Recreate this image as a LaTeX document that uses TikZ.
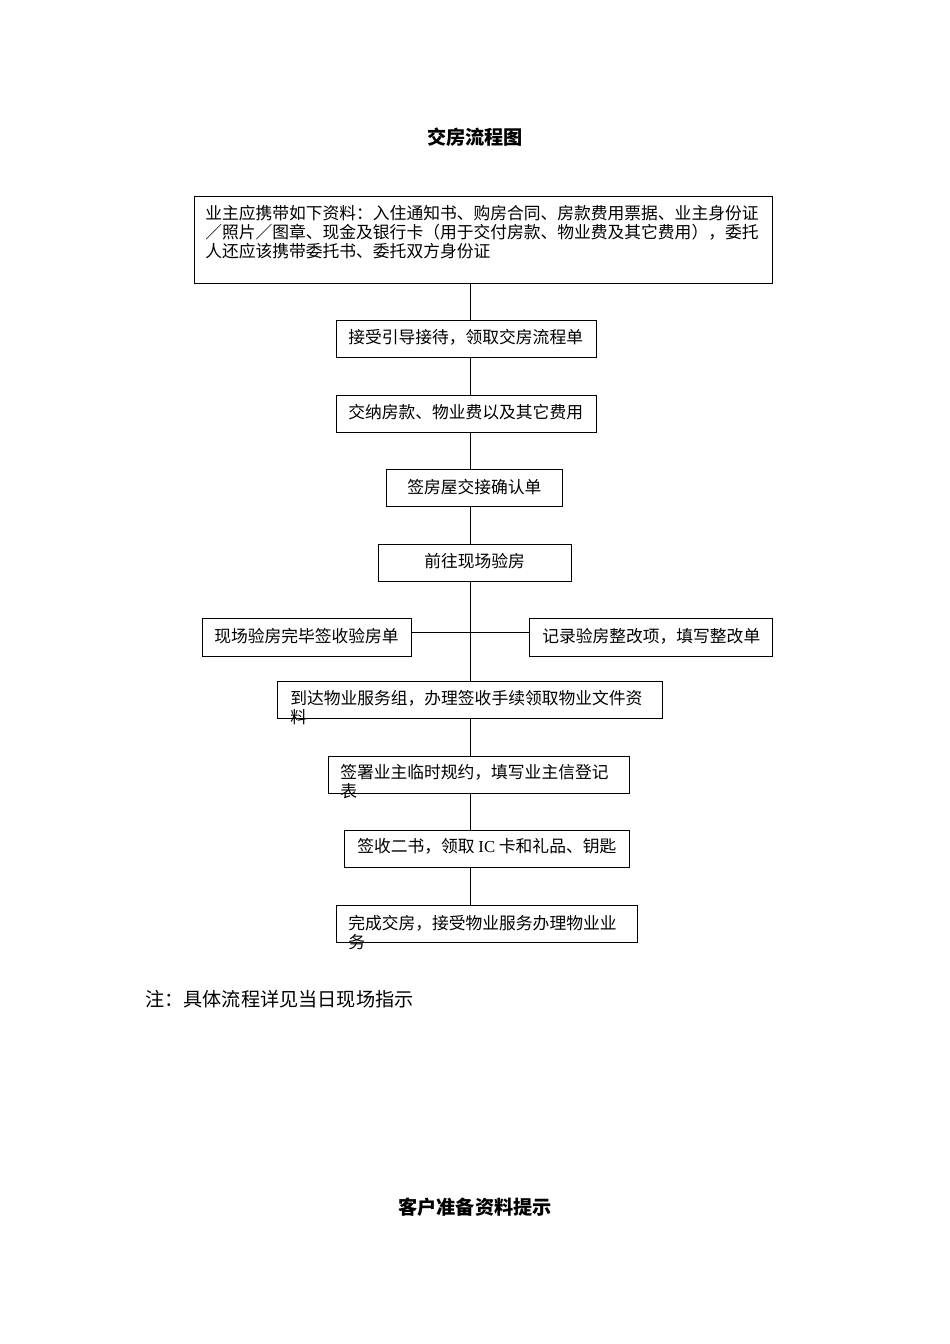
\documentclass[tikz,border=0pt]{standalone}
\usepackage{fontspec}
\setmainfont{Noto Sans CJK SC}
\newfontfamily\latinfont{Liberation Serif}
\usetikzlibrary{fit}

\tikzset{
  box/.style={draw, line width=0.6pt, inner sep=0pt},
  txt/.style={anchor=north west, inner sep=0pt, align=left, font=\fontsize{10.5pt}{11.9pt}\selectfont},
  headline/.style={inner sep=0pt, font=\fontsize{12pt}{14pt}\selectfont\bfseries},
  link/.style={line width=0.6pt}
}

\begin{document}
\begin{tikzpicture}[x=0.6263pt, y=-0.6263pt]
              \useasboundingbox (0,0) rectangle (950,1344);
              % Title
              \node[headline] (title) at (475,137) {交房流程图};
              % Boxes of the flow
              \node[box, fit={(194,196)(772,283)}] (docs) {};
              \node[box, fit={(336,320)(596,357)}] (reception) {};
              \node[box, fit={(336,395)(596,432)}] (payment) {};
              \node[box, fit={(386,469)(562,506)}] (confirm) {};
              \node[box, fit={(378,544)(571,581)}] (inspect) {};
              \node[box, fit={(202,618)(411,656)}] (signcheck) {};
              \node[box, fit={(529,618)(772,656)}] (record) {};
              \node[box, fit={(277,681)(662,718)}] (service) {};
              \node[box, fit={(328,756)(629,793)}] (agreement) {};
              \node[box, fit={(344,830)(629,867)}] (keys) {};
              \node[box, fit={(336,905)(637,942)}] (finish) {};
              % Texts in the boxes
              \node[txt] (docstxt) at (205,204.5) {业主应携带如下资料：入住通知书、购房合同、房款费用票据、业主身份证\\／照片／图章、现金及银行卡（用于交付房款、物业费及其它费用），委托\\人还应该携带委托书、委托双方身份证};
              \node[txt] (receptiontxt) at (348,328.5) {接受引导接待，领取交房流程单};
              \node[txt] (paymenttxt) at (348,403.5) {交纳房款、物业费以及其它费用};
              \node[txt] (confirmtxt) at (407,478.5) {签房屋交接确认单};
              \node[txt] (inspecttxt) at (424,552.5) {前往现场验房};
              \node[txt] (signchecktxt) at (214,627.5) {现场验房完毕签收验房单};
              \node[txt] (recordtxt) at (542,627.5) {记录验房整改项，填写整改单};
              \node[txt] (servicetxt) at (290,689.5) {到达物业服务组，办理签收手续领取物业文件资\\料};
              \node[txt] (agreementtxt) at (340,764.5) {签署业主临时规约，填写业主信登记\\表};
              \node[txt] (keystxt) at (357,838.5) {签收二书，领取 {\latinfont IC} 卡和礼品、钥匙};
              \node[txt] (finishtxt) at (348,914.5) {完成交房，接受物业服务办理物业业\\务};
              % Connectors
              \coordinate (spine) at (470,0);
              \coordinate (branch) at (470,632);
              \draw[link] (docs.south -| spine) -- (reception.north -| spine);
              \draw[link] (reception.south -| spine) -- (payment.north -| spine);
              \draw[link] (payment.south -| spine) -- (confirm.north -| spine);
              \draw[link] (confirm.south -| spine) -- (inspect.north -| spine);
              \draw[link] (inspect.south -| spine) -- (service.north -| spine);
              \draw[link] (signcheck.east |- branch) -- (record.west |- branch);
              \draw[link] (service.south -| spine) -- (agreement.north -| spine);
              \draw[link] (agreement.south -| spine) -- (keys.north -| spine);
              \draw[link] (keys.south -| spine) -- (finish.north -| spine);
              % Note and next heading
              \node[anchor=west, inner sep=0pt, font=\fontsize{12pt}{14pt}\selectfont] (note) at (145,999) {注：具体流程详见当日现场指示};
              \node[headline] (nexttitle) at (475,1207) {客户准备资料提示};
\end{tikzpicture}
\end{document}
